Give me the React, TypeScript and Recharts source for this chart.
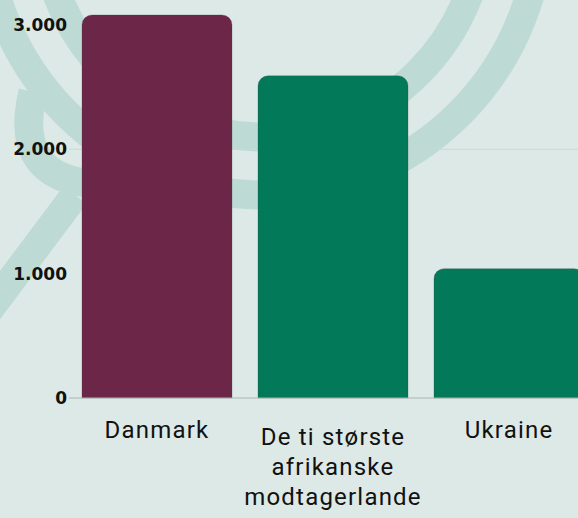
import React from 'react';
import { BarChart, Bar, XAxis, YAxis, CartesianGrid, Cell } from 'recharts';

const categories = ['Danmark', 'De ti største afrikanske modtagerlande', 'Ukraine'];
const labelLines = [['Danmark'], ['De ti største', 'afrikanske', 'modtagerlande'], ['Ukraine']];
const values = [3080, 2590, 1040];
const barColors = ['#6c2748', '#027a5a', '#027a5a'];
const yTicks = [0, 1000, 2000, 3000];

const formatTick = (v: number) => v.toLocaleString('da-DK');

const chartData = categories.map((name, i) => ({ name, value: values[i] }));

const CategoryTick = (props: any) => {
  const { x, y, index } = props;
  const lines = labelLines[index] || [props.payload.value];
  const start = lines.length > 1 ? 39 : 32;
  return (
    <g>
      {lines.map((line: string, i: number) => (
        <text
          key={i}
          x={x}
          y={y + start + i * 30}
          textAnchor="middle"
          fill="#111"
          fontFamily="Roboto, sans-serif"
          fontSize={24}
          letterSpacing={1.2}
        >
          {line}
        </text>
      ))}
    </g>
  );
};

// decorative background arcs, not data
const Backdrop = () => (
  <svg width={578} height={518} style={{ position: 'absolute', left: 0, top: 0 }}>
    <g fill="none" stroke="#bddbd4" strokeWidth={29}>
      <circle cx={263} cy={-83} r={220} />
      <circle cx={263} cy={-83} r={278} />
      <path d="M 33 92 Q 12 178 95 184" />
      <path d="M 75 195 L -30 335" />
    </g>
  </svg>
);

export default function App() {
  return (
    <div
      style={{
        position: 'absolute',
        left: 0,
        top: 0,
        width: 578,
        height: 518,
        overflow: 'hidden',
        background: '#dde9e6',
      }}
    >
      <Backdrop />
      <div style={{ position: 'absolute', left: 0, top: 0 }}>
        <BarChart
          width={600}
          height={518}
          data={chartData}
          margin={{ top: 0, right: 3, left: 0, bottom: 0 }}
        >
          <CartesianGrid vertical={false} stroke="#cad8d4" horizontalValues={[2000]} />
          <XAxis
            dataKey="name"
            height={120}
            tickLine={false}
            axisLine={{ stroke: '#aab6b2' }}
            tick={<CategoryTick />}
            interval={0}
          />
          <YAxis
            width={69}
            domain={[0, 3200]}
            ticks={yTicks}
            tickFormatter={formatTick}
            axisLine={false}
            tickLine={false}
            tickSize={0}
            tickMargin={2}
            tick={{ fill: '#111', fontSize: 17, fontWeight: 700, fontFamily: 'DejaVu Sans, sans-serif' }}
          />
          <Bar
            dataKey="value"
            barSize={150}
            radius={[10, 10, 0, 0]}
            stroke="rgba(60,60,60,0.25)"
            isAnimationActive={false}
          >
            {chartData.map((d, i) => (
              <Cell key={d.name} fill={barColors[i]} />
            ))}
          </Bar>
        </BarChart>
      </div>
    </div>
  );
}
